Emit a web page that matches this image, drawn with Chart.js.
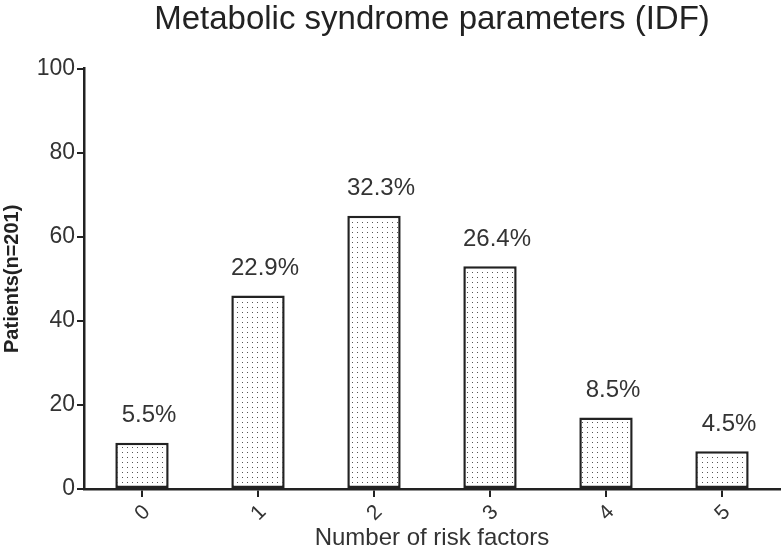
<!DOCTYPE html>
<html>
<head>
<meta charset="utf-8">
<script src="https://cdn.jsdelivr.net/npm/chart.js@4.4.0/dist/chart.umd.min.js"></script>
<style>
  html, body { margin: 0; padding: 0; background: #fff; }
  #wrap { width: 781px; height: 549px; }
</style>
</head>
<body>
<div id="wrap"><canvas id="BarChart" width="781" height="549"></canvas></div>
<script>
// chart values
const riskFactors = ["0", "1", "2", "3", "4", "5"];
const patients = [11, 46, 65, 53, 17, 9];
const percentLabels = ["5.5%", "22.9%", "32.3%", "26.4%", "8.5%", "4.5%"];
const yTicks = [0, 20, 40, 60, 80, 100];

const ink = "#222";
const fontFamily = "'Liberation Sans', Arial, sans-serif";

// stippled fill like the original print
function dotPattern() {
  const c = document.createElement("canvas");
  c.width = 5;
  c.height = 5;
  const g = c.getContext("2d");
  g.fillStyle = "#fff";
  g.fillRect(0, 0, 5, 5);
  g.fillStyle = "#555";
  g.fillRect(2, 2, 1, 1);
  return g.createPattern(c, "repeat");
}

const percentPlugin = {
  id: "percentLabels",
  afterDatasetsDraw(chart) {
    const ctx = chart.ctx;
    const meta = chart.getDatasetMeta(0);
    ctx.save();
    ctx.font = "24px " + fontFamily;
    ctx.fillStyle = "#333";
    ctx.textAlign = "center";
    ctx.textBaseline = "middle";
    meta.data.forEach((bar, i) => {
      ctx.fillText(percentLabels[i], bar.x + 7, bar.y - 27);
    });
    ctx.restore();
  },
};

const ctx = document.getElementById("BarChart");
new Chart(ctx, {
  type: "bar",
  data: {
    labels: riskFactors,
    datasets: [
      {
        data: patients,
        backgroundColor: dotPattern(),
        borderColor: ink,
        borderWidth: 2.5,
        borderSkipped: false,
        barPercentage: 0.46,
        categoryPercentage: 1,
      },
    ],
  },
  options: {
    responsive: false,
    animation: false,
    devicePixelRatio: 1,
    layout: { padding: { right: 1, left: 0, bottom: 0 } },
    plugins: {
      legend: { display: false },
      tooltip: { enabled: false },
      title: {
        display: true,
        fullSize: false,
        text: "Metabolic syndrome parameters (IDF)",
        color: "#222",
        font: { family: fontFamily, size: 33, weight: "normal" },
        padding: { top: 0, bottom: 29 },
      },
    },
    scales: {
      x: {
        offset: true,
        grid: {
          offset: false,
          drawOnChartArea: false,
          drawTicks: true,
          tickLength: 8,
          color: ink,
          lineWidth: 2,
        },
        border: { display: true, color: ink, width: 2.5 },
        ticks: {
          color: "#333",
          font: { family: fontFamily, size: 21 },
          minRotation: 45,
          maxRotation: 45,
          padding: 3,
          labelOffset: 5,
        },
        title: {
          display: true,
          text: "Number of risk factors",
          color: "#333",
          font: { family: fontFamily, size: 24, lineHeight: 0.9 },
          padding: { top: 0, bottom: 0 },
        },
        afterFit(scale) {
          scale.height = 60;
        },
      },
      y: {
        min: 0,
        max: 100,
        afterBuildTicks(scale) {
          scale.ticks = yTicks.map((v) => ({ value: v }));
        },
        grid: {
          drawOnChartArea: false,
          drawTicks: true,
          tickLength: 7,
          color: ink,
          lineWidth: 2,
        },
        border: { display: true, color: ink, width: 2.5 },
        ticks: {
          color: "#333",
          font: { family: fontFamily, size: 23 },
          padding: 2,
        },
        title: {
          display: true,
          text: "Patients(n=201)",
          color: "#222",
          font: { family: fontFamily, size: 20, weight: "bold" },
          padding: { top: 0, bottom: 2 },
        },
        afterFit(scale) {
          scale.width = 84;
        },
      },
    },
  },
  plugins: [percentPlugin],
});
</script>
</body>
</html>
